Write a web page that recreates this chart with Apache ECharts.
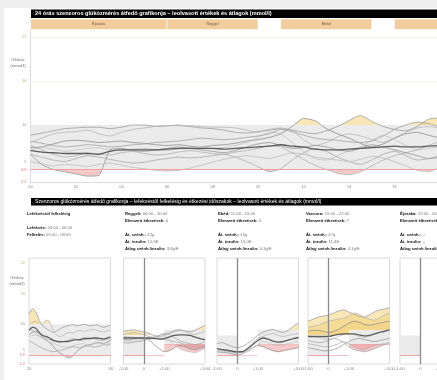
<!DOCTYPE html>
<html><head><meta charset="utf-8">
<script src="https://cdn.jsdelivr.net/npm/echarts@6/dist/echarts.min.js"></script>
<style>
html,body{margin:0;padding:0;overflow:hidden;background:#efefef;width:437px;height:380px;}
#bg{position:absolute;left:4px;top:8px;width:640px;height:380px;background:#fff;}
#c{position:absolute;left:0;top:0;width:600px;height:380px;}
</style></head><body><div id="bg"></div><div id="c"></div>
<script>
// ---------- DATA ----------
const dayHours = [0,0.5,1,1.5,2,2.5,3,3.5,4,4.5,5,5.5,6,6.5,7,7.5,8,8.5,9,9.5,10,10.5,11,11.5,12,12.5,13,13.5,14,14.5,15,15.5,16,16.5,17,17.5,18];
const dayTickLabels = ['00','02','04','06','08','10','12','14','16','18','20','22','24'];
const yTickValues = [2.2,3.9,5,10,16,22];
const yTickLabels = ['2.2','3.9','5','10','16','22'];
const day1 = [8.6,8.9,9.2,9.5,9.6,9.7,9.7,9.5,9.7,10.0,10.0,9.8,9.9,10.0,9.8,9.6,9.5,9.3,9.0,8.9,9.1,9.3,9.5,9.3,9.0,8.8,9.2,9.8,10.6,11.3,10.5,9.8,9.4,9.2,9.8,10.8,11.0];
const day2 = [7.6,8.2,8.8,9.0,9.1,9.3,8.8,8.5,9.0,9.4,9.6,9.8,9.9,9.9,9.9,9.8,9.7,9.7,9.6,9.3,9.0,9.4,9.6,9.2,8.0,7.2,7.6,8.4,8.8,8.5,8.0,7.6,8.2,9.0,9.6,9.8,9.6];
const day3 = [6.9,7.0,7.4,7.8,7.9,7.8,7.6,7.7,7.8,7.6,7.5,7.3,7.2,7.3,7.1,7.0,7.2,7.3,7.5,7.8,8.0,8.3,8.8,9.8,10.9,10.6,9.5,8.8,8.2,7.5,7.0,7.4,8.2,8.8,9.0,8.6,8.2];
const day4 = [6.6,6.9,6.7,6.4,6.6,6.8,6.9,6.6,6.5,6.7,6.8,6.6,6.5,6.7,6.9,7.0,6.8,6.9,7.2,7.6,8.3,9.0,8.8,7.6,6.4,5.4,5.2,5.8,6.5,7.0,7.9,8.6,8.0,7.2,6.6,6.8,7.0];
const day5 = [6.0,5.6,5.2,5.0,5.4,5.8,5.6,5.3,5.0,4.8,4.9,5.2,5.4,5.6,5.5,5.6,5.8,6.0,5.6,5.0,4.3,3.6,4.0,5.2,6.2,6.8,6.4,5.6,5.0,4.6,5.2,6.0,6.4,5.8,5.2,5.4,5.8];
const day6 = [7.2,6.6,6.0,5.6,5.8,6.2,6.0,5.9,6.2,6.4,6.1,5.9,6.0,6.3,6.5,6.3,6.1,6.0,6.3,6.5,6.8,7.2,7.0,6.2,5.3,4.5,3.9,3.4,3.2,3.6,4.4,5.2,5.8,6.2,6.6,7.2,7.8];
const day7 = [6.0,4.6,3.9,3.6,3.3,3.0,3.1,6.6,6.8,6.5,6.4,6.6,6.8,7.0,6.8,6.6,6.4,6.2,6.5,7.0,7.4,7.6,7.2,6.8,6.9,7.2,7.0,6.6,6.4,6.8,7.3,7.0,6.6,6.2,5.8,5.4,5.6];
const day8 = [5.0,4.7,4.4,4.6,4.5,4.3,4.6,4.8,4.5,4.2,4.0,3.8,3.7,3.8,4.1,4.5,4.9,5.3,5.6,5.8,5.6,5.4,5.8,6.2,6.0,5.6,5.4,5.2,5.0,5.3,5.7,5.5,5.0,4.4,3.8,3.6,4.2];
const day9 = [7.8,7.5,7.2,7.0,7.1,7.3,7.2,7.0,7.1,7.3,7.4,7.6,7.7,7.8,8.0,8.2,8.1,8.0,8.1,8.3,8.5,8.8,9.4,9.1,8.6,8.2,8.0,7.9,7.7,7.6,7.8,8.5,9.4,10.0,10.4,10.2,9.7];
const dayMean = [6.5,6.3,6.2,6.1,6.1,6.1,6.0,6.4,6.6,6.6,6.6,6.6,6.7,6.8,6.8,6.8,6.8,6.7,6.8,6.9,7.0,7.1,7.3,7.1,7.0,6.7,6.6,6.6,6.7,6.8,6.9,7.0,7.1,7.0,7.0,7.1,7.2];

const periodNames = ['Éjszaka','Reggel','Ebéd','Vacsora','Éjszaka'];
const periodStart = [0,6,11,16,22];
const periodEnd = [6,10,15,22,24];

const bedHours = [0,0.5,1,1.5,2,2.5,3,3.5,4,4.5,5,5.5,6,6.5,7,7.5,8,8.5,9,9.5,10,10.5,11,11.5,12];
const bedTickValues = [0,12];
const bedTickLabels = ['20','08'];
const bed1 = [12.0,13.1,12.4,10.8,9.8,9.2,8.8,8.4,8.6,9.0,9.4,9.6,9.8,9.9,9.7,9.8,10.0,9.9,9.7,9.8,9.9,9.6,9.4,9.6,9.8];
const bed2 = [9.8,10.4,10.6,10.2,9.9,10.8,10.6,9.0,8.0,7.6,7.8,8.2,8.4,8.3,8.6,8.8,8.6,8.7,8.9,9.0,8.8,8.6,8.5,8.7,8.9];
const bed3 = [8.0,8.4,8.6,8.2,7.6,7.0,6.4,5.8,5.0,4.4,4.0,3.6,3.4,3.8,4.6,5.2,5.6,5.8,6.0,6.2,6.4,6.3,6.2,6.5,6.8];
const bed4 = [7.6,7.8,7.9,7.6,7.2,6.8,6.5,6.3,6.0,5.8,5.6,5.5,5.6,5.8,6.0,6.1,6.2,6.0,5.9,6.1,6.3,6.4,6.2,6.1,6.3];
const bed5 = [6.8,6.4,6.0,5.6,5.3,5.0,4.8,4.6,4.7,4.8,5.0,5.2,5.4,5.6,5.5,5.4,5.6,5.8,5.7,5.5,5.6,5.8,6.0,5.9,6.0];
const bed6 = [9.0,8.8,8.4,7.8,7.4,7.2,7.0,6.8,6.6,6.4,6.6,6.8,7.0,7.2,7.0,6.8,6.9,7.1,7.3,7.2,7.0,6.8,6.9,7.1,7.0];
const bedMean = [8.8,9.4,9.2,8.4,7.8,7.6,7.3,6.9,6.7,6.6,6.6,6.6,6.7,6.9,7.0,7.0,7.2,7.2,7.2,7.3,7.3,7.2,7.1,7.3,7.5];

const mealHours = [-1,-0.75,-0.5,-0.25,0,0.25,0.5,0.75,1,1.25,1.5,1.75,2,2.25,2.5,2.75,3];
const mealTickValues = [-1,0,1,3];
const mealTickLabels = ['-1:00','0','+1:00','+3:00'];
const reggeli1 = [8.6,8.8,8.9,8.7,8.5,8.2,7.8,7.6,7.8,8.2,8.6,8.8,8.7,8.5,8.8,9.3,9.8];
const reggeli2 = [7.6,7.5,7.4,7.3,7.2,7.3,7.5,7.8,8.0,8.4,8.8,9.0,8.6,8.2,8.0,8.3,8.6];
const reggeli3 = [7.0,6.9,7.1,7.2,7.3,7.0,6.0,5.2,4.6,4.8,5.4,5.8,5.6,5.2,5.0,5.3,5.6];
const reggeli4 = [6.8,6.7,6.6,6.8,7.0,7.1,7.2,7.4,7.6,7.0,6.0,5.2,4.8,4.6,4.4,4.8,5.2];
const reggeli5 = [6.4,6.3,6.5,6.6,6.8,7.0,7.4,7.8,8.2,8.0,7.4,6.8,6.4,6.2,6.0,6.2,6.6];
const reggeli6 = [8.0,8.2,8.4,8.2,7.9,7.6,7.4,7.2,7.0,6.8,6.6,6.4,6.0,5.6,5.4,5.6,5.8];
const reggeliMean = [7.3,7.3,7.3,7.3,7.3,7.3,7.2,7.1,7.2,7.5,7.8,7.9,7.9,7.8,7.5,7.2,7.0];
const ebed1 = [6.2,6.4,6.0,5.6,5.4,5.6,6.2,7.0,7.8,8.4,8.8,9.0,8.6,8.4,8.8,9.6,10.3];
const ebed2 = [5.2,5.0,4.8,4.6,4.4,4.6,5.4,6.4,7.2,7.6,8.0,8.2,7.8,7.6,7.8,8.0,8.2];
const ebed3 = [4.6,4.5,4.4,4.2,4.0,4.2,4.8,5.4,5.8,5.6,5.2,4.8,4.6,4.8,5.0,5.2,5.4];
const ebed4 = [5.0,4.8,4.6,4.5,4.5,4.4,4.6,5.2,6.0,6.6,6.4,6.0,5.8,5.9,6.2,6.4,6.6];
const ebedMean = [5.2,5.0,4.9,4.7,4.6,4.6,5.2,6.0,6.8,7.3,7.1,6.7,6.5,6.6,6.9,7.2,7.4];
const vacsora1 = [10.6,11.0,11.4,11.6,11.8,12.2,12.6,12.8,12.4,12.0,11.6,11.4,11.8,12.4,12.8,13.0,13.2];
const vacsora2 = [9.4,9.6,9.8,10.2,10.6,10.8,11.0,11.2,11.6,12.2,12.0,11.4,11.0,10.8,11.2,11.8,12.2];
const vacsora3 = [8.6,8.8,8.8,8.6,8.4,8.6,9.0,9.6,10.2,10.6,10.4,10.0,9.8,10.0,10.2,10.4,10.6];
const vacsora4 = [7.8,7.6,7.4,7.2,7.0,7.2,7.6,8.0,8.2,8.0,7.6,7.4,7.6,8.0,8.4,8.8,9.0];
const vacsora5 = [6.8,6.6,6.4,6.5,6.8,7.2,7.0,6.4,5.6,5.0,4.8,4.6,4.8,5.2,5.6,6.0,6.2];
const vacsora6 = [6.2,6.0,5.8,5.6,5.6,5.8,6.2,6.6,6.2,5.6,5.2,5.0,5.4,5.8,6.0,6.2,6.4];
const vacsora7 = [5.4,5.2,5.0,4.8,4.8,5.0,5.4,6.0,6.6,7.0,7.2,7.0,6.8,6.6,6.8,7.0,7.2];
const vacsoraMean = [7.6,7.6,7.6,7.6,7.6,7.8,8.0,8.1,8.1,8.1,7.9,7.7,7.8,8.1,8.4,8.6,8.9];

const mealNames = ['Reggeli:','Ebéd:','Vacsora:','Éjszaka:'];
const mealTimes = ['06:00 - 10:00','11:00 - 15:00','16:00 - 22:00','22:00 - 06:00'];
const mealCounts = ['6','4','7','0'];
const mealCarbs = ['42g','45g','47g','--'];
const mealInsulin = ['10,6E','15,0E','11,4E','--'];
const mealRatio = ['3,8g/E','5,3g/E','4,1g/E','--'];

const dayLow = 3.9, dayHigh = 10;
const preLow = 3.9, preHigh = 7.8;
const postLow = 6.1, postHigh = 8.9;

// ---------- LAYOUT ----------
const FONT = 'Liberation Sans, Arial, sans-serif';
const PINK = '#ef9b9b', YEL = '#f2d27c', BAND = '#ebebeb', RED = '#f0a2a2';
const lineColors = ['#9c9c9c','#b8b8b8','#8e8e8e','#c4c4c4','#a8a8a8','#b0b0b0','#969696','#bdbdbd','#a2a2a2'];
const panelLeft = [29,123.5,217,308,400];
const panelW = 81.5, panelTop = 258, panelH = 106;

function pts(xs, ys, from, to) {
  const out = [];
  xs.forEach((x, i) => { if (x >= from - 1e-9 && x <= to + 1e-9) out.push([x, ys[i]]); });
  return out;
}
const series = [];
const vmGroups = {};
function addFill(xi, data, low, high) {
  const key = low + '_' + high;
  (vmGroups[key] = vmGroups[key] || {low, high, idx: []}).idx.push(series.length);
  series.push({type:'line', xAxisIndex:xi, yAxisIndex:xi, data, symbol:'none', smooth:0.2, silent:true, z:2,
    lineStyle:{opacity:0, width:0}, areaStyle:{origin:low, opacity:0.55}});
}
function addLine(xi, data, color, width, z) {
  series.push({type:'line', xAxisIndex:xi, yAxisIndex:xi, data, symbol:'none', smooth:0.2, silent:true, z:z || 3,
    lineStyle:{color, width}});
}
function hline(y, color, w, x0, x1) {
  if (x0 === undefined) return {yAxis:y, lineStyle:{color, width:w, type:'solid'}};
  return [{coord:[x0, y], lineStyle:{color, width:w, type:'solid'}}, {coord:[x1, y]}];
}
function helper(xi, areas, lines, z) {
  series.push({type:'line', xAxisIndex:xi, yAxisIndex:xi, data:[], silent:true, z:z,
    markArea: areas.length ? {silent:true, itemStyle:{color:BAND}, data:areas} : undefined,
    markLine: lines.length ? {silent:true, symbol:'none', label:{show:false}, data:lines} : undefined});
}

// top chart (axis 0)
helper(0, [[{xAxis:0, yAxis:dayLow},{xAxis:24, yAxis:dayHigh}]], [hline(16,'#f1efe6',0.8), hline(22,'#f1efe6',0.8)], 1);
const dayLines = [day1,day2,day3,day4,day5,day6,day7,day8,day9];
dayLines.forEach(l => addFill(0, pts(dayHours, l, 0, 24), dayLow, dayHigh));
dayLines.forEach((l, i) => addLine(0, pts(dayHours, l, 0, 24), lineColors[i], 0.8));
addLine(0, pts(dayHours, dayMean, 0, 24), '#5c5c5c', 1.3, 4);
helper(0, [], [hline(dayLow, RED, 1)], 5);

// band grid (axis 1)
series.push({type:'line', xAxisIndex:1, yAxisIndex:1, data:[], silent:true,
  markArea:{silent:true, itemStyle:{color:'#f2cd9b', borderColor:'#fff', borderWidth:0.6},
    label:{show:true, position:'inside', fontSize:3.8, color:'#6b5a44', fontFamily:FONT},
    data: periodNames.map((n, i) => [{name:n, xAxis:periodStart[i]}, {xAxis:periodEnd[i]}])}});

// bedtime panel (axis 2)
helper(2, [[{xAxis:0, yAxis:dayLow},{xAxis:12, yAxis:dayHigh}]], [], 1);
const bedLines = [bed1,bed2,bed3,bed4,bed5,bed6];
bedLines.forEach(l => addFill(2, pts(bedHours, l, 0, 12), dayLow, dayHigh));
bedLines.forEach((l, i) => addLine(2, pts(bedHours, l, 0, 12), lineColors[i], 0.8));
addLine(2, pts(bedHours, bedMean, 0, 12), '#5c5c5c', 1.3, 4);
helper(2, [], [hline(dayLow, RED, 1)], 5);

// meal panels (axes 3..6)
const mealLines = [[reggeli1,reggeli2,reggeli3,reggeli4,reggeli5,reggeli6],[ebed1,ebed2,ebed3,ebed4],
  [vacsora1,vacsora2,vacsora3,vacsora4,vacsora5,vacsora6,vacsora7],[]];
const mealMeans = [reggeliMean, ebedMean, vacsoraMean, null];
mealLines.forEach((lines, p) => {
  const xi = 3 + p;
  helper(xi, [[{xAxis:-1, yAxis:preLow},{xAxis:0, yAxis:preHigh}], [{xAxis:1, yAxis:postLow},{xAxis:3, yAxis:postHigh}]], [], 1);
  lines.forEach(l => { addFill(xi, pts(mealHours, l, -1, 1), preLow, preHigh); addFill(xi, pts(mealHours, l, 1, 3), postLow, postHigh); });
  lines.forEach((l, i) => addLine(xi, pts(mealHours, l, -1, 3), lineColors[i], 0.8));
  if (mealMeans[p]) addLine(xi, pts(mealHours, mealMeans[p], -1, 3), '#5c5c5c', 1.3, 4);
  helper(xi, [], [hline(preLow, RED, 1, -1, 0), {xAxis:0, lineStyle:{color:'#8a8a8a', width:1.3, type:'solid'}}], 5);
});

const visualMap = Object.values(vmGroups).map(g => ({type:'piecewise', show:false, dimension:1, seriesIndex:g.idx,
  pieces:[{lt:g.low, color:PINK},{gte:g.low, lte:g.high, color:'rgba(255,255,255,0)'},{gt:g.high, color:YEL}]}));

// axes
const yRich = {r:{color:'#e07474', fontSize:4, fontFamily:FONT}, o:{color:'#c2b25a', fontSize:4, fontFamily:FONT}, g:{color:'#9a9a9a', fontSize:4, fontFamily:FONT}};
const yFmt = v => { const i = yTickValues.indexOf(v); const k = v <= 3.9 ? 'r' : (v >= 16 ? 'o' : 'g'); return '{' + k + '|' + yTickLabels[i] + '}'; };
const axLine = {show:true, onZero:false, lineStyle:{color:'#d2d2d2', width:0.8}};
const grids = [
  {left:30.5, top:30, width:546, height:152},
  {left:30.5, top:19, width:546, height:10.5},
  ...panelLeft.map(l => ({left:l, top:panelTop, width:panelW, height:panelH, show:true, borderColor:'#d0d0d0', borderWidth:0.8}))
];
const xAxis = [
  {gridIndex:0, type:'value', min:0, max:24, interval:2, splitLine:{show:false}, axisTick:{show:false}, axisLine:axLine,
    axisLabel:{fontSize:4.2, color:'#8a8a8a', margin:3, fontFamily:FONT, formatter:v => dayTickLabels[v / 2]}},
  {gridIndex:1, type:'value', min:0, max:24, show:false},
  {gridIndex:2, type:'value', min:0, max:12, splitLine:{show:false}, axisTick:{show:false}, axisLine:{show:false, onZero:false},
    axisLabel:{customValues:bedTickValues, fontSize:4.2, color:'#8a8a8a', margin:3, fontFamily:FONT, formatter:v => bedTickLabels[bedTickValues.indexOf(v)]}},
  ...[0,1,2,3].map(p => ({gridIndex:3 + p, type:'value', min:-1, max:3, splitLine:{show:false}, axisTick:{show:false}, axisLine:{show:false, onZero:false},
    axisLabel:{customValues:mealTickValues, fontSize:4.2, color:'#8a8a8a', margin:3, fontFamily:FONT, formatter:v => mealTickLabels[mealTickValues.indexOf(v)]}}))
];
const yAxis = [
  {gridIndex:0, type:'value', min:2.2, max:23, splitLine:{show:false}, axisTick:{show:false}, axisLine:axLine,
    axisLabel:{customValues:yTickValues, margin:4, fontSize:4, formatter:yFmt, rich:yRich}},
  {gridIndex:1, type:'value', min:0, max:1, show:false},
  {gridIndex:2, type:'value', min:2.2, max:23, splitLine:{show:false}, axisTick:{show:false}, axisLine:{show:false, onZero:false},
    axisLabel:{customValues:yTickValues, margin:4, fontSize:4, formatter:yFmt, rich:yRich}},
  ...[0,1,2,3].map(p => ({gridIndex:3 + p, type:'value', min:2.2, max:23, splitLine:{show:false}, axisTick:{show:false},
    axisLine:{show:false, onZero:false}, axisLabel:{show:false}}))
];

// graphic texts
const G = [];
const txtRich = {b:{fontSize:4.2, fontWeight:'bold', fill:'#111', fontFamily:FONT}, n:{fontSize:4.2, fill:'#777', fontFamily:FONT}};
function rtext(x, y, s) { G.push({type:'text', x, y, silent:true, style:{text:s, rich:txtRich, verticalAlign:'middle', fontSize:4.2, fontFamily:FONT}}); }
G.push({type:'rect', shape:{x:31, y:9.5, width:600, height:8.5}, style:{fill:'#000'}, silent:true});
G.push({type:'text', x:35, y:13.9, silent:true, style:{text:'24 órás szenzoros glükózmérés átfedő grafikonja – leolvasott értékek és átlagok (mmol/l)', fill:'#fff', fontSize:5.6, fontWeight:'bold', fontFamily:FONT, verticalAlign:'middle'}});
G.push({type:'rect', shape:{x:31, y:198, width:600, height:7.5}, style:{fill:'#000'}, silent:true});
G.push({type:'text', x:35, y:201.9, silent:true, style:{text:'Szenzoros glükózmérés átfedő grafikonja – lefekvéstől felkelésig és étkezési időszakok – leolvasott értékek és átlagok (mmol/l)', fill:'#fff', fontSize:5.1, fontFamily:FONT, verticalAlign:'middle'}});
G.push({type:'text', x:18, y:63, silent:true, style:{text:'Glükóz\n(mmol/l)', fill:'#777', fontSize:4.3, lineHeight:5.5, fontFamily:FONT, align:'center', verticalAlign:'middle'}});
G.push({type:'text', x:17, y:281, silent:true, style:{text:'Glükóz\n(mmol/l)', fill:'#777', fontSize:4.3, lineHeight:5.5, fontFamily:FONT, align:'center', verticalAlign:'middle'}});
rtext(27, 214, '{b|Lefekvéstől felkelésig}');
rtext(27, 228, '{b|Lefekvés:} {n|20:00 - 00:00}');
rtext(27, 235, '{b|Felkelés:} {n|05:00 - 09:00}');
const colX = [125, 218, 306, 400];
mealNames.forEach((n, i) => {
  rtext(colX[i], 214, '{b|' + n + '} {n|' + mealTimes[i] + '}');
  rtext(colX[i], 221, '{b|Elemzett étkezések:} {n|' + mealCounts[i] + '}');
  rtext(colX[i], 235, '{b|Át. szénh.:} {n|' + mealCarbs[i] + '}');
  rtext(colX[i], 242, '{b|Át. inzulin:} {n|' + mealInsulin[i] + '}');
  rtext(colX[i], 249, '{b|Átlag szénh./inzulin:} {n|' + mealRatio[i] + '}');
});

const chart = echarts.init(document.getElementById('c'), null, {renderer:'canvas'});
chart.setOption({
  animation:false,
  textStyle:{fontFamily:FONT},
  grid:grids, xAxis, yAxis, series, visualMap,
  graphic:{elements:G}
});
</script></body></html>
